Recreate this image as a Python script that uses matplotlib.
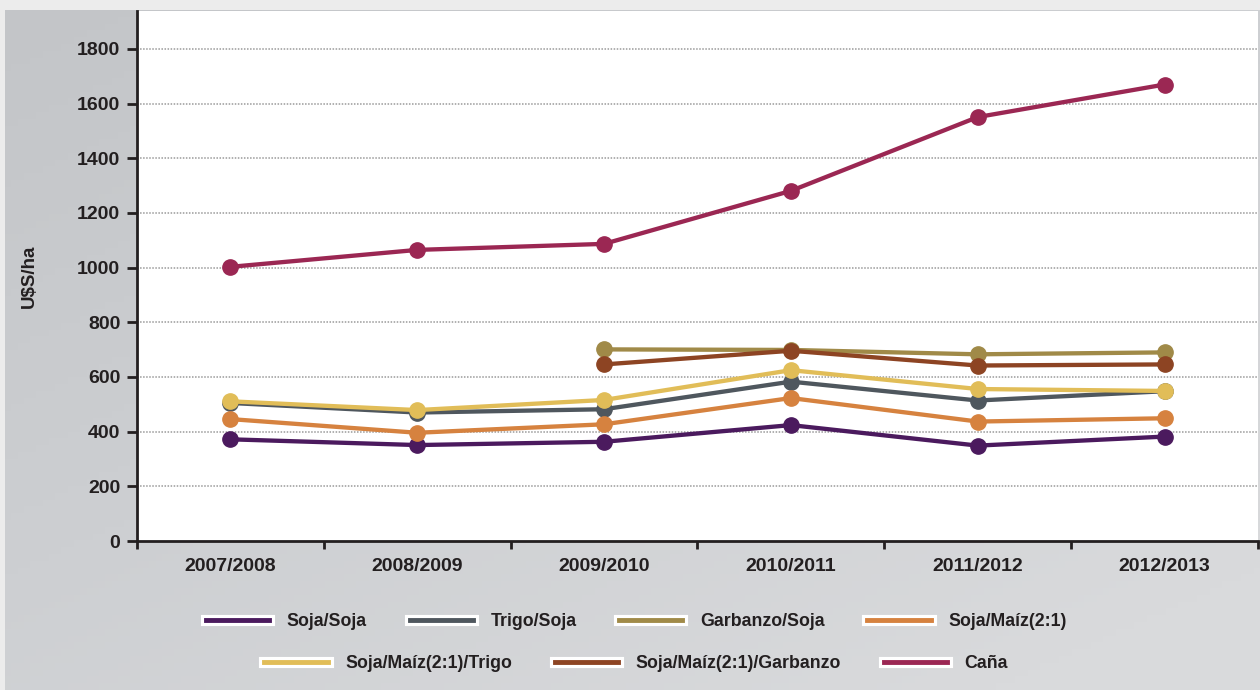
import numpy as np
import matplotlib
matplotlib.use("Agg")
import matplotlib.pyplot as plt
import matplotlib.patheffects as pe
from matplotlib.lines import Line2D

plt.rcParams['font.family'] = ['Liberation Sans', 'DejaVu Sans']
plt.rcParams['font.weight'] = 'bold'

campanias = ['2007/2008', '2008/2009', '2009/2010', '2010/2011', '2011/2012', '2012/2013']

soja_soja = [372, 351, 363, 424, 349, 382]
trigo_soja = [505, 470, 482, 583, 514, 548]
garbanzo_soja = [np.nan, np.nan, 701, 699, 683, 690]
soja_maiz = [446, 396, 427, 523, 437, 449]
soja_maiz_trigo = [511, 479, 516, 625, 556, 549]
soja_maiz_garbanzo = [np.nan, np.nan, 646, 696, 642, 646]
cana = [1003, 1065, 1087, 1281, 1551, 1670]

series = [
    ('Soja/Soja', soja_soja, '#4b1a5e'),
    ('Trigo/Soja', trigo_soja, '#4f575e'),
    ('Garbanzo/Soja', garbanzo_soja, '#a08a48'),
    ('Soja/Maíz(2:1)', soja_maiz, '#d6823f'),
    ('Soja/Maíz(2:1)/Trigo', soja_maiz_trigo, '#e1bd58'),
    ('Soja/Maíz(2:1)/Garbanzo', soja_maiz_garbanzo, '#8d4423'),
    ('Caña', cana, '#9b2753'),
]

fig = plt.figure(figsize=(12.6, 6.9), dpi=100)
fig.patch.set_facecolor('#ececec')

# gray panel with soft diagonal gradient
bg = fig.add_axes([5 / 1260, 0, 1 - 5 / 1260, 1 - 10 / 690], zorder=-5)
gx, gy = np.meshgrid(np.linspace(0, 1, 200), np.linspace(0, 1, 100))
grad = np.clip(0.5 * gx + 0.6 * gy, 0, 1)
bg.imshow(grad, cmap=matplotlib.colors.LinearSegmentedColormap.from_list(
    'g', ['#c3c5c8', '#cdcfd2', '#d9dadc']), aspect='auto', origin='upper',
    extent=[0, 1, 0, 1])
bg.axis('off')

ax = fig.add_axes([137 / 1260, 1 - 541 / 690, (1258 - 137) / 1260, (541 - 11) / 690])
ax.set_facecolor('white')

x = np.arange(len(campanias))
for name, vals, col in series:
    ax.plot(x, vals, '-o', color=col, lw=3.1, ms=11, label=name)

ax.set_xlim(-0.5, len(campanias) - 0.5)
ax.set_ylim(0, 1939)
ax.set_yticks(np.arange(0, 1801, 200))
ax.set_xticks(np.arange(-0.5, len(campanias)))
ax.set_xticklabels([])
ax.set_xticks(x, minor=True)
ax.set_xticklabels(campanias, minor=True, fontsize=14, fontweight='bold', color='#231f20')
ax.tick_params(axis='x', which='minor', length=0, pad=12)
ax.tick_params(axis='x', which='major', length=6, width=2, color='#231f20', direction='out')
ax.tick_params(axis='y', length=7, width=2, color='#231f20', labelsize=14,
               labelcolor='#231f20', pad=5)
for lab in ax.get_yticklabels():
    lab.set_fontweight('bold')

for v in np.arange(200, 1801, 200):
    ax.axhline(v, color='#9a9a9a', lw=1.1, ls=(0, (1, 1)), zorder=0)

for s in ['top', 'right']:
    ax.spines[s].set_visible(False)
ax.spines['left'].set_linewidth(2)
ax.spines['bottom'].set_linewidth(2)
ax.spines['left'].set_color('#231f20')
ax.spines['bottom'].set_color('#231f20')

fig.text(29 / 1260, 1 - 276 / 690, 'U$S/ha', rotation=90, ha='center', va='center',
         fontsize=13.5, fontweight='bold', color='#231f20')

def handle(col):
    return Line2D([], [], color=col, lw=3.5,
                  path_effects=[pe.Stroke(linewidth=8, foreground='white'), pe.Normal()])

row1 = series[:4]
row2 = series[4:]
leg_kw = dict(loc='center', frameon=False, fontsize=12.8, handlelength=3.55,
              handletextpad=1.0, columnspacing=2.4)
leg1 = fig.legend([handle(c) for _, _, c in row1], [n for n, _, _ in row1],
                  bbox_to_anchor=(0.505, 1 - 622 / 690), ncol=4, **leg_kw)
leg2 = fig.legend([handle(c) for _, _, c in row2], [n for n, _, _ in row2],
                  bbox_to_anchor=(0.505, 1 - 664 / 690), ncol=3, **leg_kw)
for leg in (leg1, leg2):
    for t in leg.get_texts():
        t.set_color('#231f20')
        t.set_fontweight('bold')

fig.savefig('out.png', dpi=100, facecolor=fig.get_facecolor())
